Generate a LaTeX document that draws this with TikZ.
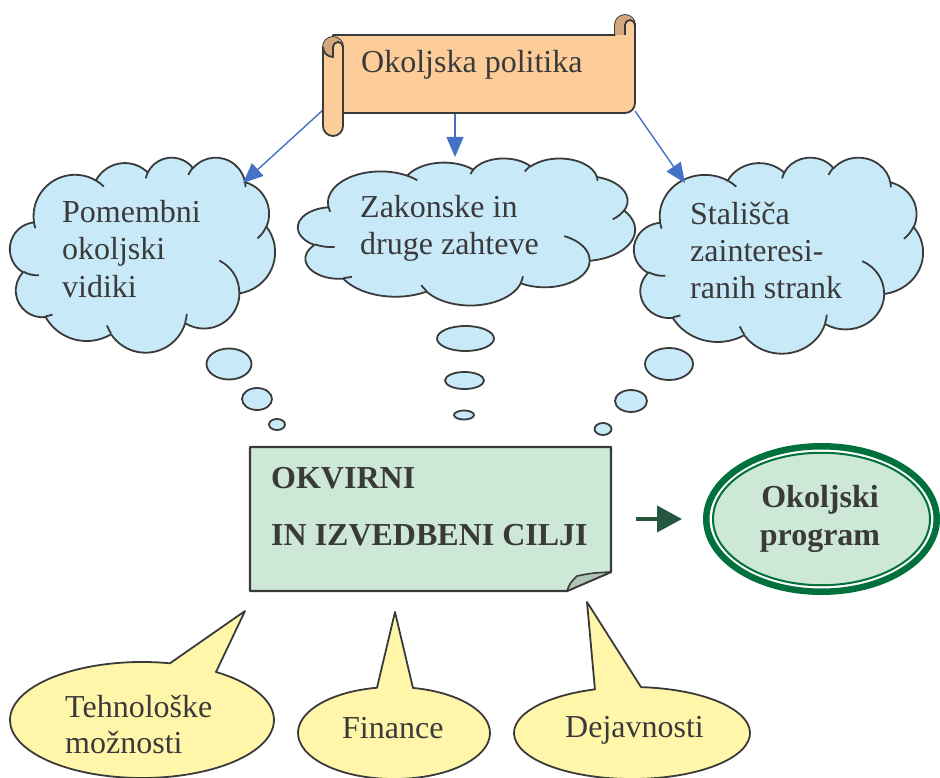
\documentclass[tikz,border=0pt]{standalone}
\usepackage{fontspec}
\setmainfont{Liberation Serif}
\usetikzlibrary{arrows.meta,calc}

\definecolor{ink}{HTML}{3A3A3A}
\definecolor{peach}{HTML}{FCCC99}
\definecolor{scrolltan}{HTML}{D3A87D}
\definecolor{arrowblue}{HTML}{4472C4}
\definecolor{skyfill}{HTML}{C8E9F8}
\definecolor{mint}{HTML}{CDE8D6}
\definecolor{foldgray}{HTML}{B0C4B4}
\definecolor{deepgreen}{HTML}{00703C}
\definecolor{arrowgreen}{HTML}{24573D}
\definecolor{lemon}{HTML}{FFF6AA}

% Elliptical arc given by a start point angle and a sweep measured as
% visual angles; stored as a style holding the parametric angles.
\newcommand\ooarcstyle[5]{%
  \pgfmathsetmacro\ooS{atan2((#2)*sin(#4),(#3)*cos(#4))}%
  \pgfmathsetmacro\ooE{atan2((#2)*sin((#4)+(#5)),(#3)*cos((#4)+(#5)))}%
  \pgfmathsetmacro\ooE{\ooS+mod(\ooE-\ooS+720,360)}%
  \edef\oodo{\noexpand\tikzset{#1/.style={start angle=\ooS,end angle=\ooE,x radius=#2,y radius=#3}}}%
  \oodo}

% cloud outline, in a 432 x 432 box
\ooarcstyle{cloudA}{67.53}{91.90}{-190.4875}{123.7805}
\ooarcstyle{cloudB}{53.33}{72.67}{-144.1024}{89.9452}
\ooarcstyle{cloudC}{43.65}{59.45}{-145.8079}{99.7230}
\ooarcstyle{cloudD}{48.57}{65.95}{-130.9861}{117.2417}
\ooarcstyle{cloudE}{53.33}{72.73}{-78.7089}{109.0269}
\ooarcstyle{cloudF}{67.75}{92.20}{-46.2673}{130.2690}
\ooarcstyle{cloudG}{57.85}{78.67}{0.6250}{114.0333}
\ooarcstyle{cloudH}{67.52}{92.15}{22.4516}{115.1726}
\ooarcstyle{cloudI}{77.20}{105.43}{66.2426}{75.7110}
\ooarcstyle{cloudJ}{43.60}{59.18}{-274.9421}{146.7356}
\ooarcstyle{cloudK}{43.45}{59.45}{-246.8285}{152.5189}
% inner folds of the cloud
\ooarcstyle{foldA}{43.45}{59.45}{86.7420}{26.4295}
\ooarcstyle{foldB}{43.60}{59.18}{73.6105}{11.4475}
\ooarcstyle{foldC}{67.52}{92.15}{137.6242}{14.0811}
\ooarcstyle{foldD}{67.52}{92.15}{6.4533}{15.9984}
\ooarcstyle{foldE}{57.85}{78.67}{-70.2924}{70.9174}
\ooarcstyle{foldF}{53.33}{72.73}{30.3180}{27.7515}
\ooarcstyle{foldG}{48.57}{65.95}{-13.7443}{14.8589}
\ooarcstyle{foldH}{48.57}{65.95}{-149.1815}{18.1954}
\ooarcstyle{foldI}{43.65}{59.45}{-163.4943}{17.6864}
\ooarcstyle{foldJ}{67.53}{91.90}{-66.7070}{12.3194}
\ooarcstyle{foldK}{67.53}{91.90}{157.6544}{11.8582}

\newcommand\cloudrim{(39.00,143.70) arc[cloudA] arc[cloudB] arc[cloudC]
  arc[cloudD] arc[cloudE] arc[cloudF] arc[cloudG] arc[cloudH] arc[cloudI]
  arc[cloudJ] arc[cloudK] -- cycle}
\newcommand\cloudfolds{(46.93,261.77) arc[foldA] (69.28,348.99) arc[foldB]
  (164.78,390.90) arc[foldC] (288.27,347.51) arc[foldD]
  (341.29,229.54) arc[foldE] (417.98,153.54) arc[foldF]
  (383.24,54.26) arc[foldG] (290.78,39.52) arc[foldH]
  (221.41,47.20) arc[foldI] (140.00,51.92) arc[foldJ]
  (41.27,157.89) arc[foldK]}

\tikzset{
  outline/.style={draw=ink, line width=1.8pt, line join=round},
  cloudline/.style={draw=ink, line width=1.8pt, line join=round},
  label/.style={text=ink, inner sep=0pt, text width=400pt, align=flush left,
    anchor=base west, font=\fontsize{32}{37}\selectfont},
  boldlabel/.style={label, font=\bfseries\fontsize{32}{57}\selectfont},
  bluearrow/.style={draw=arrowblue, line width=1.4pt,
    -{Triangle[length=20pt,width=17pt]}},
  greenarrow/.style={draw=arrowgreen, line width=4pt,
    -{Triangle[length=25pt,width=26pt]}},
}

\begin{document}
\begin{tikzpicture}[x=1pt,y=-1pt]
\useasboundingbox (0,0) rectangle (940,778);

% ---------- clouds ----------
\begin{scope}[shift={(10,157)}, xscale=265/432, yscale=195/432]
  \draw[cloudline, fill=skyfill] \cloudrim;
  \draw[cloudline] \cloudfolds;
\end{scope}
\begin{scope}[shift={(298,158)}, xscale=337/432, yscale=147/432]
  \draw[cloudline, fill=skyfill] \cloudrim;
  \draw[cloudline] \cloudfolds;
\end{scope}
\begin{scope}[shift={(634,157)}, xscale=289/432, yscale=196/432]
  \draw[cloudline, fill=skyfill] \cloudrim;
  \draw[cloudline] \cloudfolds;
\end{scope}

% thought bubbles under the clouds
\draw[cloudline, fill=skyfill] (229,364) ellipse [x radius=22.5, y radius=15.5];
\draw[cloudline, fill=skyfill] (257,399) ellipse [x radius=15, y radius=11];
\draw[cloudline, fill=skyfill] (277,424.5) ellipse [x radius=8, y radius=5.5];
\draw[cloudline, fill=skyfill] (465.5,338.5) ellipse [x radius=28.5, y radius=12.5];
\draw[cloudline, fill=skyfill] (464.5,380.5) ellipse [x radius=19.5, y radius=8.5];
\draw[cloudline, fill=skyfill] (464,415) ellipse [x radius=10, y radius=4.5];
\draw[cloudline, fill=skyfill] (669,364) ellipse [x radius=24, y radius=16];
\draw[cloudline, fill=skyfill] (631,401) ellipse [x radius=16, y radius=11];
\draw[cloudline, fill=skyfill] (603,429) ellipse [x radius=8.5, y radius=6];

\node[label] (aspects) at (62,223) {Pomembni\\okoljski\\vidiki};
\node[label] (legal) at (360,218) {Zakonske in\\druge zahteve};
\node[label] (stakeholders) at (690,225) {Stališča\\zainteresi-\\ranih strank};

% ---------- arrows from the policy scroll ----------
\coordinate (polL) at (323,110);
\coordinate (polM) at (455,113);
\coordinate (polR) at (635,111);
\coordinate (aspIn) at (243,183);
\coordinate (legIn) at (455,157);
\coordinate (staIn) at (685,183);
\draw[bluearrow] (polL) -- (aspIn);
\draw[bluearrow] (polM) -- (legIn);
\draw[bluearrow] (polR) -- (staIn);

% ---------- scroll ----------
% body with the top right roll
\draw[outline, fill=peach] (333,35) -- (615,35) -- (615,25)
  arc[start angle=180, end angle=360, radius=10] -- (635,103)
  arc[start angle=0, end angle=90, radius=10] -- (333,113) -- cycle;
\fill[scrolltan] (615,35) -- (615,25) arc[start angle=180, end angle=360, radius=10]
  arc[start angle=0, end angle=-180, radius=5] -- (625,35) -- cycle;
\draw[outline] (625,35) -- (625,25) arc[start angle=180, end angle=360, radius=5];
% left roll
\draw[outline, fill=peach] (323,47) -- (323,126)
  arc[start angle=180, end angle=0, radius=10] -- (343,47)
  arc[start angle=0, end angle=-180, radius=10] -- cycle;
\fill[scrolltan] (323,47) arc[start angle=180, end angle=360, radius=10]
  arc[start angle=0, end angle=-180, radius=5] -- (333,57)
  arc[start angle=90, end angle=180, radius=10] -- cycle;
\draw[outline] (323,47) arc[start angle=180, end angle=90, radius=10] -- (333,47)
  arc[start angle=180, end angle=360, radius=5];
\node[label] (policy) at (361,73) {Okoljska politika};

% ---------- goals sheet with turned corner ----------
\draw[outline, line width=2.2pt, fill=mint] (250,447) -- (611,447) -- (611,572)
  -- (567,591) -- (250,591) -- cycle;
\draw[outline, line width=1.6pt, fill=foldgray] (567,591)
  .. controls (570,583) .. (577,576) .. controls (592,573) .. (611,572) -- cycle;
\node[boldlabel] (goals) at (271,488) {OKVIRNI\\IN IZVEDBENI CILJI};

% ---------- programme ellipse ----------
\coordinate (progC) at (821.5,519);
\draw[draw=deepgreen, line width=6.5pt, fill=white] (progC)
  ellipse [x radius=115.25, y radius=72.75];
\draw[draw=deepgreen, line width=2pt, fill=mint] (progC)
  ellipse [x radius=108.5, y radius=66.25];
\node[label, text width=200pt, align=flush center, anchor=base,
  font=\bfseries\fontsize{32}{38}\selectfont] (program) at (820,507)
  {Okoljski\\program};

\coordinate (goalsOut) at (636,519);
\coordinate (progIn) at (682,519);
\draw[greenarrow] (goalsOut) -- (progIn);

% ---------- speech bubbles ----------
\coordinate (techC) at (142,720);
\coordinate (techTip) at (245,611);
\draw[outline, fill=lemon] (techTip) -- ($(techC)+(282.2:132 and 58)$)
  arc[start angle=282.2, end angle=-55.9, x radius=132, y radius=58] -- cycle;
\coordinate (finC) at (394,733);
\coordinate (finTip) at (395,612);
\draw[outline, fill=lemon] (finTip) -- ($(finC)+(259.8:96 and 46)$)
  arc[start angle=259.8, end angle=-78.6, x radius=96, y radius=46] -- cycle;
\coordinate (actC) at (632,733);
\coordinate (actTip) at (587,602);
\draw[outline, fill=lemon] (actTip) -- ($(actC)+(251.7:118 and 46)$)
  arc[start angle=251.7, end angle=-85.6, x radius=118, y radius=46] -- cycle;

\node[label, font=\fontsize{32}{36}\selectfont] (tech) at (65,717) {Tehnološke\\možnosti};
\node[label] (finance) at (342,738) {Finance};
\node[label] (activities) at (565,737) {Dejavnosti};
\end{tikzpicture}
\end{document}
